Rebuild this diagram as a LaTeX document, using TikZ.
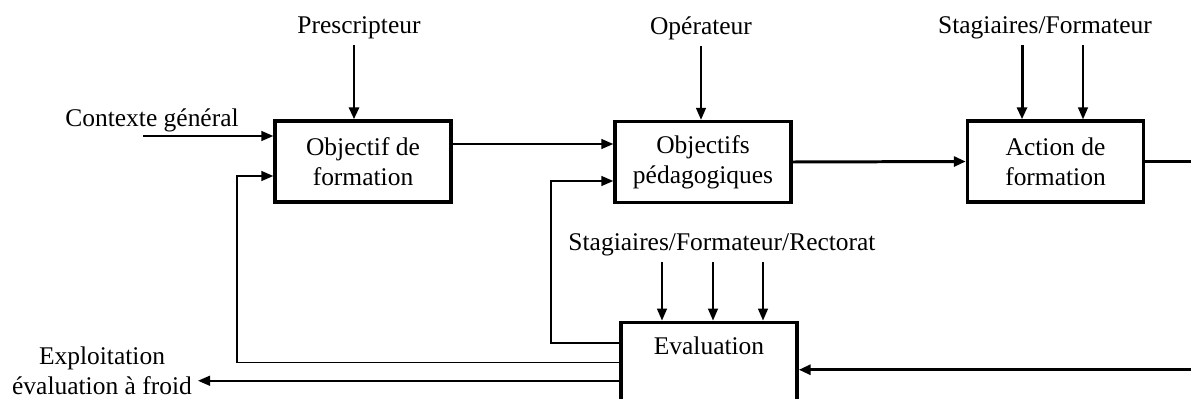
\documentclass[tikz,border=0pt]{standalone}
\usepackage{fontspec}
\setmainfont{Liberation Serif}
\usetikzlibrary{arrows.meta}
\tikzset{
  boite/.style={draw, line width=2pt, minimum width=3.52cm, minimum height=1.62cm, align=center, inner sep=0pt},
  fleche/.style={-{Triangle[length=0.24cm,width=0.2cm]}, line width=0.9pt},
  grosse/.style={fleche, line width=1.7pt}
}
\begin{document}
\begin{tikzpicture}[x=0.02cm, y=-0.02cm, font=\fontsize{14.5}{17}\selectfont]
\clip (0,0) rectangle (1191,399);
\node[boite] (objf) at (363,161.5) {Objectif de\\formation};
\node[boite] (objp) at (703,162) {Objectifs\\pédagogiques};
\node[boite] (act) at (1055.5,161.5) {Action de\\formation};
\node[boite, anchor=north, minimum height=1.9cm] (eval) at (709,320.5) {};
\node (evaltxt) at (709,346) {Evaluation};

\node (presc) at (359,28) {Prescripteur};
\node (oper) at (701,28) {Opérateur};
\node (stf) at (1045,28) {Stagiaires/Formateur};
\node (ctx) at (152,120) {Contexte général};
\node (stfr) at (722,245) {Stagiaires/Formateur/Rectorat};
\node[align=center] (expl) at (102,371) {Exploitation\\évaluation à froid};

\coordinate (ctxin) at (143,136);
\coordinate (retf) at (237,176);
\coordinate (retp) at (551,181);
\coordinate (bord) at (1205,265);

\draw[grosse] ([xshift=-0.1cm]presc.south) -- ([xshift=-0.1cm]presc.south |- objf.north);
\draw[fleche] (oper.south) -- (oper.south |- objp.north);
\draw[grosse] ([xshift=-0.67cm]act.north |- stf.south) -- ([xshift=-0.67cm]act.north);
\draw[fleche] ([xshift=0.55cm]act.north |- stf.south) -- ([xshift=0.55cm]act.north);
\foreach \dx in {-47,4,54}
{
    \draw[fleche] ([xshift=\dx*0.02cm]eval.north |- stfr.south) -- ([xshift=\dx*0.02cm]eval.north);
}
\draw[fleche] (ctxin) -- (ctxin -| objf.west);
\draw[fleche] ([yshift=0.35cm]objf.east) -- ([yshift=0.35cm]objf.east -| objp.west);
\draw[grosse] (objp.east) -- (act.west);
\draw[grosse] (act.east) -| (bord) |- (eval.east);
\draw[fleche] ([yshift=0.53cm]eval.west) -| (retp) -- (retp -| objp.west);
\draw[fleche] ([yshift=0.146cm]eval.west) -| (retf) -- (retf -| objf.west);
\draw[fleche] ([yshift=-0.22cm]eval.west) -- ([yshift=-0.22cm]eval.west -| expl.east);
\end{tikzpicture}
\end{document}
